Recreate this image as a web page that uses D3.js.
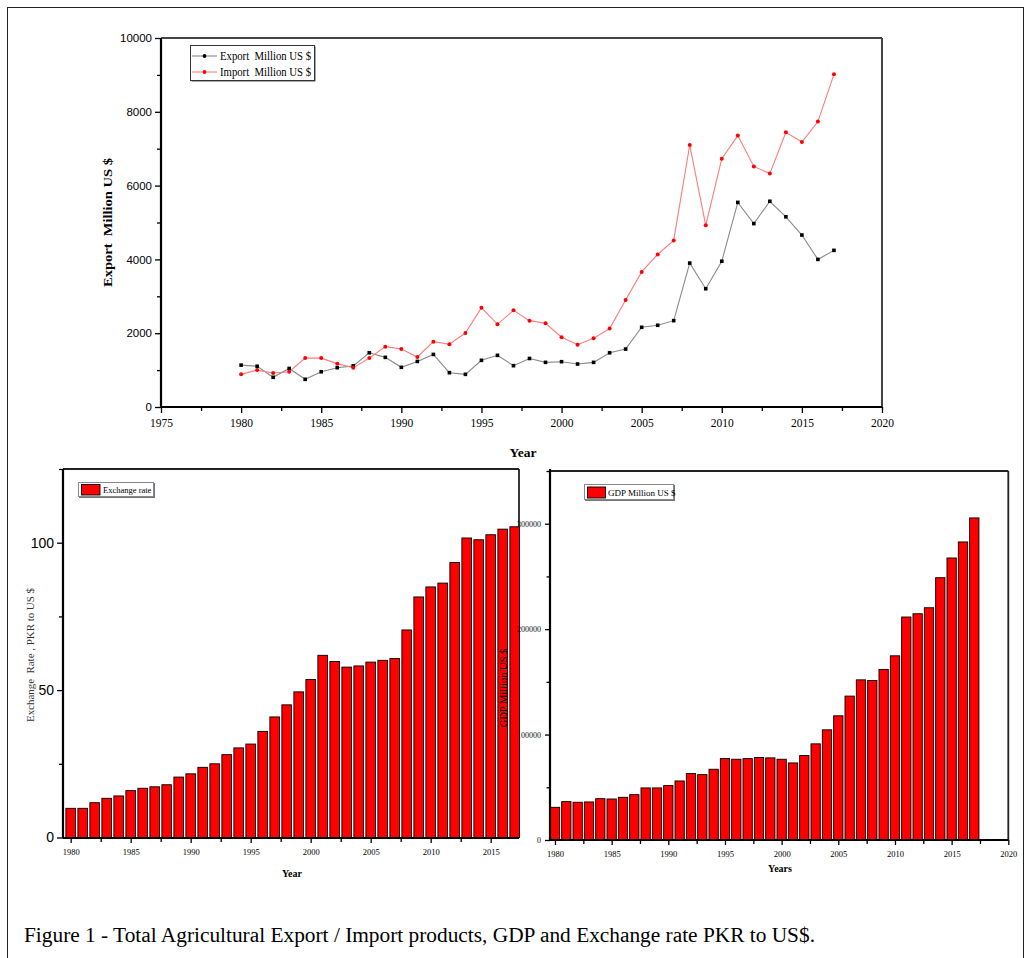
<!DOCTYPE html>
<html><head><meta charset="utf-8">
<script src="https://cdn.jsdelivr.net/npm/d3@7/dist/d3.min.js"></script>
<style>body{margin:0;background:#fff}svg{display:block}text{white-space:pre}</style>
</head><body>
<svg id="c" width="1030" height="958"></svg>
<script>
// ---------- DATA ----------
const years = [1980,1981,1982,1983,1984,1985,1986,1987,1988,1989,1990,1991,1992,1993,1994,1995,1996,1997,1998,1999,
               2000,2001,2002,2003,2004,2005,2006,2007,2008,2009,2010,2011,2012,2013,2014,2015,2016,2017];
const exportVals = [1135,1105,805,1045,750,955,1065,1115,1470,1345,1075,1235,1425,930,885,1265,1400,1120,1315,1210,
                    1228,1165,1210,1470,1570,2160,2215,2340,3900,3205,3950,5545,4970,5575,5155,4660,4000,4245];
const importVals = [885,1000,920,955,1325,1325,1175,1065,1325,1635,1570,1355,1770,1700,2005,2690,2240,2620,2340,2270,
                    1890,1690,1860,2125,2900,3660,4135,4515,7100,4925,6730,7355,6520,6325,7445,7180,7735,9015];
const exchangeRate = [9.9,9.9,11.8,13.3,14.1,15.9,16.7,17.2,17.9,20.5,21.6,23.8,25.0,28.1,30.4,31.7,36.0,40.9,45.0,49.4,
                      53.6,61.8,59.7,57.8,58.2,59.5,60.1,60.7,70.4,81.6,85.0,86.3,93.3,101.6,101.0,102.7,104.6,105.4];
const gdpVals = [31000,36400,35800,36100,39200,38900,40500,43000,49400,49400,51600,56000,63000,62000,67100,77200,76600,77200,78200,77900,
                 76600,73100,80100,91200,104500,117800,136500,151900,151300,161800,174700,211500,214600,220300,248800,267500,282700,305500];

const topXTicks = [1975,1980,1985,1990,1995,2000,2005,2010,2015,2020];
const topXMinor = [1977.5,1982.5,1987.5,1992.5,1997.5,2002.5,2007.5,2012.5,2017.5];
const topYTicks = [0,2000,4000,6000,8000,10000];
const topYMinor = [1000,3000,5000,7000,9000];
const erXTicks = [1980,1985,1990,1995,2000,2005,2010,2015];
const erXMinor = [1982.5,1987.5,1992.5,1997.5,2002.5,2007.5,2012.5];
const erYTicks = [0,50,100];
const erYMinor = [25,75,125];
const gdpXTicks = [1980,1985,1990,1995,2000,2005,2010,2015,2020];
const gdpXMinor = [1982.5,1987.5,1992.5,1997.5,2002.5,2007.5,2012.5,2017.5];
const gdpYTicks = [0,100000,200000,300000];
const gdpYMinor = [50000,150000,250000,350000];

const seriesNames = ["Export  Million US $","Import  Million US $"];
const erLegend = "Exchange rate";
const gdpLegend = "GDP Million US $";
const caption = "Figure 1 - Total Agricultural Export / Import products, GDP and Exchange rate PKR to US$.";

// ---------- DRAW ----------
const SERIF = "'Liberation Serif','Times New Roman',serif";
const SANS = "'Liberation Sans',Arial,sans-serif";
const svg = d3.select("#c");
svg.append("rect").attr("width",1030).attr("height",958).attr("fill","#fff");
svg.append("rect").attr("x",7.5).attr("y",7.5).attr("width",1016).attr("height",960)
  .attr("fill","none").attr("stroke","#222").attr("stroke-width",1);

function styleAxis(g, font, size, color, width){
  g.select(".domain").remove();
  g.selectAll(".tick line").attr("stroke","#000").attr("stroke-width",width||1.3);
  g.selectAll(".tick text").attr("font-family",font).attr("font-size",size).attr("fill",color||"#000");
}

// ===== TOP CHART =====
const tx = d3.scaleLinear().domain([1975,2020]).range([161,882]);
const ty = d3.scaleLinear().domain([0,10000]).range([407,38]);
const topG = svg.append("g");
topG.append("line").attr("x1",161).attr("x2",882).attr("y1",38).attr("y2",38).attr("stroke","#444").attr("stroke-width",2);
topG.append("line").attr("x1",882).attr("x2",882).attr("y1",38).attr("y2",407).attr("stroke","#444").attr("stroke-width",2);
let g;
g = topG.append("g").attr("transform","translate(0,407)").call(d3.axisBottom(tx).tickValues(topXTicks).tickSize(6).tickSizeOuter(0).tickPadding(6).tickFormat(d3.format("d")));
styleAxis(g, SERIF, 11.5);
g = topG.append("g").attr("transform","translate(0,407)").call(d3.axisBottom(tx).tickValues(topXMinor).tickSize(4).tickSizeOuter(0).tickFormat(""));
styleAxis(g, SERIF, 11);
g = topG.append("g").attr("transform","translate(161,0)").call(d3.axisLeft(ty).tickValues(topYTicks).tickSize(6).tickSizeOuter(0).tickPadding(3).tickFormat(d3.format("d")));
styleAxis(g, SANS, 11.5);
g = topG.append("g").attr("transform","translate(161,0)").call(d3.axisLeft(ty).tickValues(topYMinor).tickSize(4).tickSizeOuter(0).tickFormat(""));
styleAxis(g, SANS, 11);
topG.append("line").attr("x1",161).attr("x2",882).attr("y1",407).attr("y2",407).attr("stroke","#000").attr("stroke-width",2.2);
topG.append("line").attr("x1",161).attr("x2",161).attr("y1",38).attr("y2",407).attr("stroke","#000").attr("stroke-width",2.2);

const line = vals => d3.line().x((d,i)=>tx(years[i])).y(d=>ty(d))(vals);
topG.append("path").attr("d",line(exportVals)).attr("fill","none").attr("stroke","#8a8a8a").attr("stroke-width",1.1);
topG.append("path").attr("d",line(importVals)).attr("fill","none").attr("stroke","#ff7a7a").attr("stroke-width",1.1);
topG.selectAll(".ex").data(exportVals).join("rect").attr("x",(d,i)=>tx(years[i])-1.8).attr("y",d=>ty(d)-1.8)
  .attr("width",3.6).attr("height",3.6).attr("fill","#000");
topG.selectAll(".im").data(importVals).join("circle").attr("cx",(d,i)=>tx(years[i])).attr("cy",d=>ty(d))
  .attr("r",2).attr("fill","#f00");

topG.append("rect").attr("x",191.5).attr("y",46.5).attr("width",124).attr("height",35).attr("fill","#555");
topG.append("rect").attr("x",190.5).attr("y",45.5).attr("width",124).attr("height",35).attr("fill","#fff").attr("stroke","#333").attr("stroke-width",1);
[["#8a8a8a","#000",56],["#ff7a7a","#f00",72]].forEach((c,i)=>{
  topG.append("line").attr("x1",192).attr("x2",217).attr("y1",c[2]).attr("y2",c[2]).attr("stroke",c[0]).attr("stroke-width",1.1);
  topG.append("circle").attr("cx",204.5).attr("cy",c[2]).attr("r",1.9).attr("fill",c[1]);
  topG.append("text").attr("x",220).attr("y",c[2]+4).attr("font-family",SERIF).attr("font-size",12)
    .attr("textLength",91).attr("lengthAdjust","spacingAndGlyphs").text(seriesNames[i]);
});
topG.append("text").attr("transform","translate(112,222.5) rotate(-90)").attr("text-anchor","middle")
  .attr("font-family",SERIF).attr("font-weight","bold").attr("font-size",13.5)
  .attr("textLength",129).attr("lengthAdjust","spacingAndGlyphs").text("Export  Million US $");
topG.append("text").attr("x",523).attr("y",457).attr("text-anchor","middle")
  .attr("font-family",SERIF).attr("font-weight","bold").attr("font-size",13.5).text("Year");

// ===== BOTTOM LEFT: EXCHANGE RATE =====
const ex = d3.scaleLinear().domain([1979.36,2017.36]).range([63,519]);
const ey = d3.scaleLinear().domain([0,125]).range([837.5,469]);
const bl = svg.append("g");
bl.append("line").attr("x1",63).attr("x2",519).attr("y1",469).attr("y2",469).attr("stroke","#222").attr("stroke-width",1.8);
bl.append("line").attr("x1",519).attr("x2",519).attr("y1",469).attr("y2",838).attr("stroke","#222").attr("stroke-width",1.8);
const bwE = 9.6;
bl.selectAll(".b").data(exchangeRate).join("rect")
  .attr("x",(d,i)=>ex(years[i])-bwE/2).attr("y",d=>ey(d)).attr("width",bwE).attr("height",d=>ey(0)-ey(d))
  .attr("fill","#ff0000").attr("stroke","#000").attr("stroke-width",0.9);
g = bl.append("g").attr("transform","translate(0,838)").call(d3.axisBottom(ex).tickValues(erXTicks).tickSize(5).tickSizeOuter(0).tickPadding(6).tickFormat(d3.format("d")));
styleAxis(g, SERIF, 8.5);
g = bl.append("g").attr("transform","translate(0,838)").call(d3.axisBottom(ex).tickValues(erXMinor).tickSize(4).tickSizeOuter(0).tickFormat(""));
styleAxis(g, SERIF, 8);
g = bl.append("g").attr("transform","translate(63,0)").call(d3.axisLeft(ey).tickValues(erYTicks).tickSize(6).tickSizeOuter(0).tickPadding(3).tickFormat(d3.format("d")));
styleAxis(g, SANS, 14);
g = bl.append("g").attr("transform","translate(63,0)").call(d3.axisLeft(ey).tickValues(erYMinor).tickSize(4).tickSizeOuter(0).tickFormat(""));
styleAxis(g, SANS, 12);
bl.append("line").attr("x1",63).attr("x2",519).attr("y1",838).attr("y2",838).attr("stroke","#000").attr("stroke-width",2.2);
bl.append("line").attr("x1",63).attr("x2",63).attr("y1",469).attr("y2",838).attr("stroke","#000").attr("stroke-width",2.2);
bl.append("rect").attr("x",79).attr("y",483).attr("width",76).attr("height",15).attr("fill","#777");
bl.append("rect").attr("x",78.5).attr("y",482.5).attr("width",75).attr("height",14).attr("fill","#fff").attr("stroke","#888");
bl.append("rect").attr("x",81.5).attr("y",484.5).attr("width",18.5).attr("height",10.5).attr("fill","#f00").attr("stroke","#000").attr("stroke-width",0.9);
bl.append("text").attr("x",103).attr("y",493).attr("font-family",SERIF).attr("font-size",8.5).text(erLegend);
bl.append("text").attr("transform","translate(34,655) rotate(-90)").attr("text-anchor","middle")
  .attr("font-family",SERIF).attr("font-size",11).attr("fill","#333")
  .attr("textLength",134).attr("lengthAdjust","spacingAndGlyphs").text("Exchange  Rate , PKR to US $");
bl.append("text").attr("x",292).attr("y",877).attr("text-anchor","middle")
  .attr("font-family",SERIF).attr("font-weight","bold").attr("font-size",10).text("Year");

// ===== BOTTOM RIGHT: GDP =====
const gx = d3.scaleLinear().domain([1979.56,2020]).range([550,1008.3]);
const gy = d3.scaleLinear().domain([0,350000]).range([840,471]);
const br = svg.append("g");
br.append("line").attr("x1",550).attr("x2",1008.3).attr("y1",471).attr("y2",471).attr("stroke","#222").attr("stroke-width",1.8);
br.append("line").attr("x1",1008.3).attr("x2",1008.3).attr("y1",471).attr("y2",840).attr("stroke","#222").attr("stroke-width",1.8);
svg.append("clipPath").attr("id","gclip").append("rect").attr("x",551).attr("y",460).attr("width",460).attr("height",380);
const bwG = 9.3;
br.append("g").attr("clip-path","url(#gclip)").selectAll("rect").data(gdpVals).join("rect")
  .attr("x",(d,i)=>gx(years[i])-bwG/2).attr("y",d=>gy(d)).attr("width",bwG).attr("height",d=>gy(0)-gy(d))
  .attr("fill","#ff0000").attr("stroke","#000").attr("stroke-width",0.9);
g = br.append("g").attr("transform","translate(0,840)").call(d3.axisBottom(gx).tickValues(gdpXTicks).tickSize(5).tickSizeOuter(0).tickPadding(6).tickFormat(d3.format("d")));
styleAxis(g, SERIF, 8.5);
g = br.append("g").attr("transform","translate(0,840)").call(d3.axisBottom(gx).tickValues(gdpXMinor).tickSize(4).tickSizeOuter(0).tickFormat(""));
styleAxis(g, SERIF, 8);
svg.append("clipPath").attr("id","lclip").append("rect").attr("x",-34).attr("y",-400).attr("width",60).attr("height",1400);
g = br.append("g").attr("transform","translate(550,0)").call(d3.axisLeft(gy).tickValues(gdpYTicks).tickSize(5).tickSizeOuter(0).tickPadding(4).tickFormat(d3.format("d")));
styleAxis(g, SERIF, 8, "#111");
g.attr("clip-path","url(#lclip)");
g = br.append("g").attr("transform","translate(550,0)").call(d3.axisLeft(gy).tickValues(gdpYMinor).tickSize(3.5).tickSizeOuter(0).tickFormat(""));
styleAxis(g, SERIF, 8);
br.append("line").attr("x1",550).attr("x2",1008.3).attr("y1",840).attr("y2",840).attr("stroke","#000").attr("stroke-width",2.2);
br.append("line").attr("x1",550).attr("x2",550).attr("y1",469).attr("y2",840).attr("stroke","#000").attr("stroke-width",2.2);
br.append("rect").attr("x",585).attr("y",485).attr("width",90).attr("height",16).attr("fill","#777");
br.append("rect").attr("x",584.5).attr("y",484.5).attr("width",89).attr("height",15).attr("fill","#fff").attr("stroke","#888");
br.append("rect").attr("x",587.5).attr("y",487).attr("width",18).attr("height",11).attr("fill","#f00").attr("stroke","#000").attr("stroke-width",0.9);
br.append("text").attr("x",608).attr("y",496).attr("font-family",SERIF).attr("font-size",9).text(gdpLegend);
br.append("text").attr("transform","translate(507,688) rotate(-90)").attr("text-anchor","middle")
  .attr("font-family",SERIF).attr("font-size",10.5).attr("fill","#000").text("GDP Million US $");
br.append("text").attr("x",780).attr("y",872).attr("text-anchor","middle")
  .attr("font-family",SERIF).attr("font-weight","bold").attr("font-size",10).text("Years");

svg.append("text").attr("x",24).attr("y",942).attr("font-family",SERIF).attr("font-size",20)
  .attr("textLength",791).attr("lengthAdjust","spacingAndGlyphs").text(caption);
</script>
</body></html>
